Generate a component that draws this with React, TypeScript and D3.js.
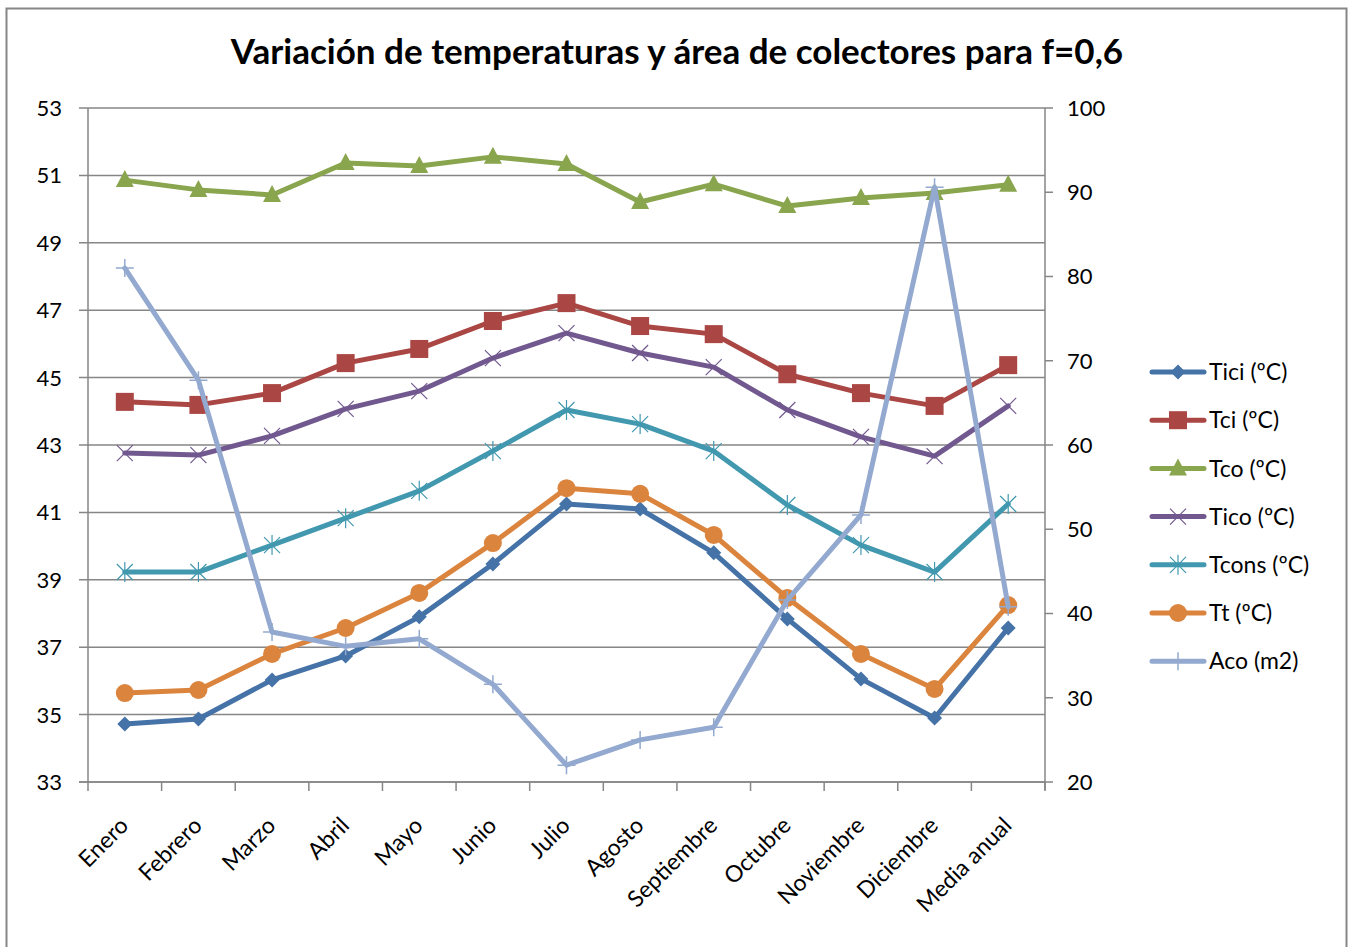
import React, { useEffect, useRef } from "react";
import * as d3 from "d3";

const categories = ["Enero", "Febrero", "Marzo", "Abril", "Mayo", "Junio", "Julio", "Agosto", "Septiembre", "Octubre", "Noviembre", "Diciembre", "Media anual"];
const tici = [34.72, 34.87, 36.03, 36.74, 37.9, 39.47, 41.25, 41.1, 39.8, 37.84, 36.06, 34.9, 37.57];
const tci = [44.28, 44.19, 44.54, 45.43, 45.85, 46.68, 47.21, 46.53, 46.29, 45.1, 44.54, 44.16, 45.37];
const tco = [50.86, 50.57, 50.42, 51.37, 51.28, 51.55, 51.34, 50.21, 50.74, 50.09, 50.33, 50.48, 50.72];
const tico = [42.76, 42.7, 43.27, 44.07, 44.6, 45.58, 46.32, 45.73, 45.31, 44.04, 43.24, 42.67, 44.16];
const tcons = [39.23, 39.23, 40.03, 40.83, 41.64, 42.82, 44.04, 43.62, 42.82, 41.22, 40.03, 39.23, 41.25];
const tt = [35.64, 35.73, 36.8, 37.57, 38.61, 40.09, 41.72, 41.55, 40.33, 38.46, 36.8, 35.76, 38.25];
const aco = [81.0, 67.7, 37.8, 36.1, 37.0, 31.6, 22.0, 25.0, 26.5, 41.6, 51.7, 90.6, 40.8];
const leftTicks = [33, 35, 37, 39, 41, 43, 45, 47, 49, 51, 53];
const rightTicks = [20, 30, 40, 50, 60, 70, 80, 90, 100];

const seriesNames = ["Tici (ºC)", "Tci (ºC)", "Tco (ºC)", "Tico (ºC)", "Tcons (ºC)", "Tt (ºC)", "Aco (m2)"];
const seriesColors = ["#4572A7", "#AA4643", "#89A54E", "#71588F", "#4198AF", "#DB843D", "#93A9CF"];
const seriesMarkers = ["diamond", "square", "triangle", "x", "asterisk", "circle", "plus"];
const seriesData = [tici, tci, tco, tico, tcons, tt, aco];
const seriesAxis = ["left", "left", "left", "left", "left", "left", "right"];

const FONT = "Lato, 'Open Sans', sans-serif";

export default function App() {
  const ref = useRef<SVGSVGElement>(null);
  useEffect(() => {
    const svg = d3.select(ref.current);
    svg.selectAll("*").remove();
    const W = 1354, H = 947;
    const L = 88, R = 1045, T = 108, B = 782;

    svg.append("rect").attr("x", 0).attr("y", 0).attr("width", W).attr("height", H).attr("fill", "#fff");
    svg.append("rect").attr("x", 6.5).attr("y", 8.5).attr("width", 1340).attr("height", 960)
      .attr("fill", "none").attr("stroke", "#868686").attr("stroke-width", 2);

    const x = d3.scaleBand().domain(categories).range([L, R]);
    const yL = d3.scaleLinear().domain([33, 53]).range([B, T]);
    const yR = d3.scaleLinear().domain([20, 100]).range([B, T]);
    const cx = (c: string) => (x(c) as number) + x.bandwidth() / 2;

    // gridlines
    svg.append("g").selectAll("line").data(leftTicks).join("line")
      .attr("x1", L - 9).attr("x2", R).attr("y1", d => yL(d)).attr("y2", d => yL(d))
      .attr("stroke", "#868686").attr("stroke-width", 1.5);
    // left axis
    svg.append("line").attr("x1", L).attr("x2", L).attr("y1", T).attr("y2", B).attr("stroke", "#868686").attr("stroke-width", 1.5);
    svg.append("g").selectAll("text").data(leftTicks).join("text")
      .attr("x", 62).attr("y", d => yL(d)).attr("dy", "0.36em").attr("text-anchor", "end")
      .attr("font-family", FONT).attr("font-size", 22).attr("fill", "#000").text(d => d);
    // right axis
    svg.append("line").attr("x1", R).attr("x2", R).attr("y1", T).attr("y2", B + 8).attr("stroke", "#868686").attr("stroke-width", 1.5);
    svg.append("g").selectAll("line").data(rightTicks).join("line")
      .attr("x1", R).attr("x2", R + 8).attr("y1", d => yR(d)).attr("y2", d => yR(d))
      .attr("stroke", "#868686").attr("stroke-width", 1.5);
    svg.append("g").selectAll("text").data(rightTicks).join("text")
      .attr("x", 1067).attr("y", d => yR(d)).attr("dy", "0.36em").attr("text-anchor", "start")
      .attr("font-family", FONT).attr("font-size", 22).attr("fill", "#000").text(d => d);
    // x axis
    svg.append("line").attr("x1", L - 9).attr("x2", R).attr("y1", B).attr("y2", B).attr("stroke", "#868686").attr("stroke-width", 1.5);
    const bounds = categories.map(c => x(c) as number).concat([R]);
    svg.append("g").selectAll("line").data(bounds).join("line")
      .attr("x1", d => d).attr("x2", d => d).attr("y1", B).attr("y2", B + 9)
      .attr("stroke", "#868686").attr("stroke-width", 1.5);
    svg.append("g").selectAll("text").data(categories).join("text")
      .attr("transform", d => `translate(${cx(d) + 5},${B + 45}) rotate(-45)`)
      .attr("text-anchor", "end")
      .attr("font-family", FONT).attr("font-size", 23).attr("fill", "#000").text(d => d);

    // title
    svg.append("text").attr("x", 677).attr("y", 64).attr("text-anchor", "middle")
      .attr("font-family", FONT).attr("font-weight", "bold").attr("font-size", 35).attr("fill", "#000")
      .text("Variación de temperaturas y área de colectores para f=0,6");

    const drawMarker = (g: any, type: string, px: number, py: number, color: string) => {
      if (type === "diamond") {
        const s = 7.5;
        g.append("path").attr("d", `M${px},${py - s}L${px + s},${py}L${px},${py + s}L${px - s},${py}Z`).attr("fill", color);
      } else if (type === "square") {
        g.append("rect").attr("x", px - 9).attr("y", py - 9).attr("width", 18).attr("height", 18).attr("fill", color);
      } else if (type === "triangle") {
        g.append("path").attr("d", `M${px},${py - 10}L${px + 9},${py + 7}L${px - 9},${py + 7}Z`).attr("fill", color);
      } else if (type === "circle") {
        g.append("circle").attr("cx", px).attr("cy", py).attr("r", 9).attr("fill", color);
      } else if (type === "x") {
        const s = 8;
        g.append("path").attr("d", `M${px - s},${py - s}L${px + s},${py + s}M${px - s},${py + s}L${px + s},${py - s}`)
          .attr("stroke", color).attr("stroke-width", 1.2).attr("fill", "none");
      } else if (type === "asterisk") {
        const s = 8;
        g.append("path").attr("d", `M${px - s},${py - s}L${px + s},${py + s}M${px - s},${py + s}L${px + s},${py - s}M${px},${py - 10}L${px},${py + 10}`)
          .attr("stroke", color).attr("stroke-width", 1.2).attr("fill", "none");
      } else if (type === "plus") {
        g.append("path").attr("d", `M${px - 9},${py}L${px + 9},${py}M${px},${py - 9}L${px},${py + 9}`)
          .attr("stroke", color).attr("stroke-width", 1.5).attr("fill", "none");
      }
    };

    seriesData.forEach((data, i) => {
      const y = seriesAxis[i] === "left" ? yL : yR;
      const g = svg.append("g");
      const line = d3.line<number>().x((_, j) => cx(categories[j])).y(d => y(d));
      g.append("path").attr("d", line(data)).attr("fill", "none").attr("stroke", seriesColors[i])
        .attr("stroke-width", 5).attr("stroke-linejoin", "round").attr("stroke-linecap", "round");
      data.forEach((v, j) => drawMarker(g, seriesMarkers[i], cx(categories[j]), y(v), seriesColors[i]));
    });

    // legend
    const lg = svg.append("g");
    seriesNames.forEach((name, i) => {
      const ly = 372 + i * 48.2;
      lg.append("line").attr("x1", 1152).attr("x2", 1204).attr("y1", ly).attr("y2", ly)
        .attr("stroke", seriesColors[i]).attr("stroke-width", 5).attr("stroke-linecap", "round");
      drawMarker(lg, seriesMarkers[i], 1178, ly, seriesColors[i]);
      lg.append("text").attr("x", 1209).attr("y", ly).attr("dy", "0.36em")
        .attr("font-family", FONT).attr("font-size", 23).attr("fill", "#000").text(name);
    });
  }, []);
  return <svg ref={ref} width={1354} height={947} style={{ display: "block", position: "absolute", left: 0, top: 0 }} />;
}
